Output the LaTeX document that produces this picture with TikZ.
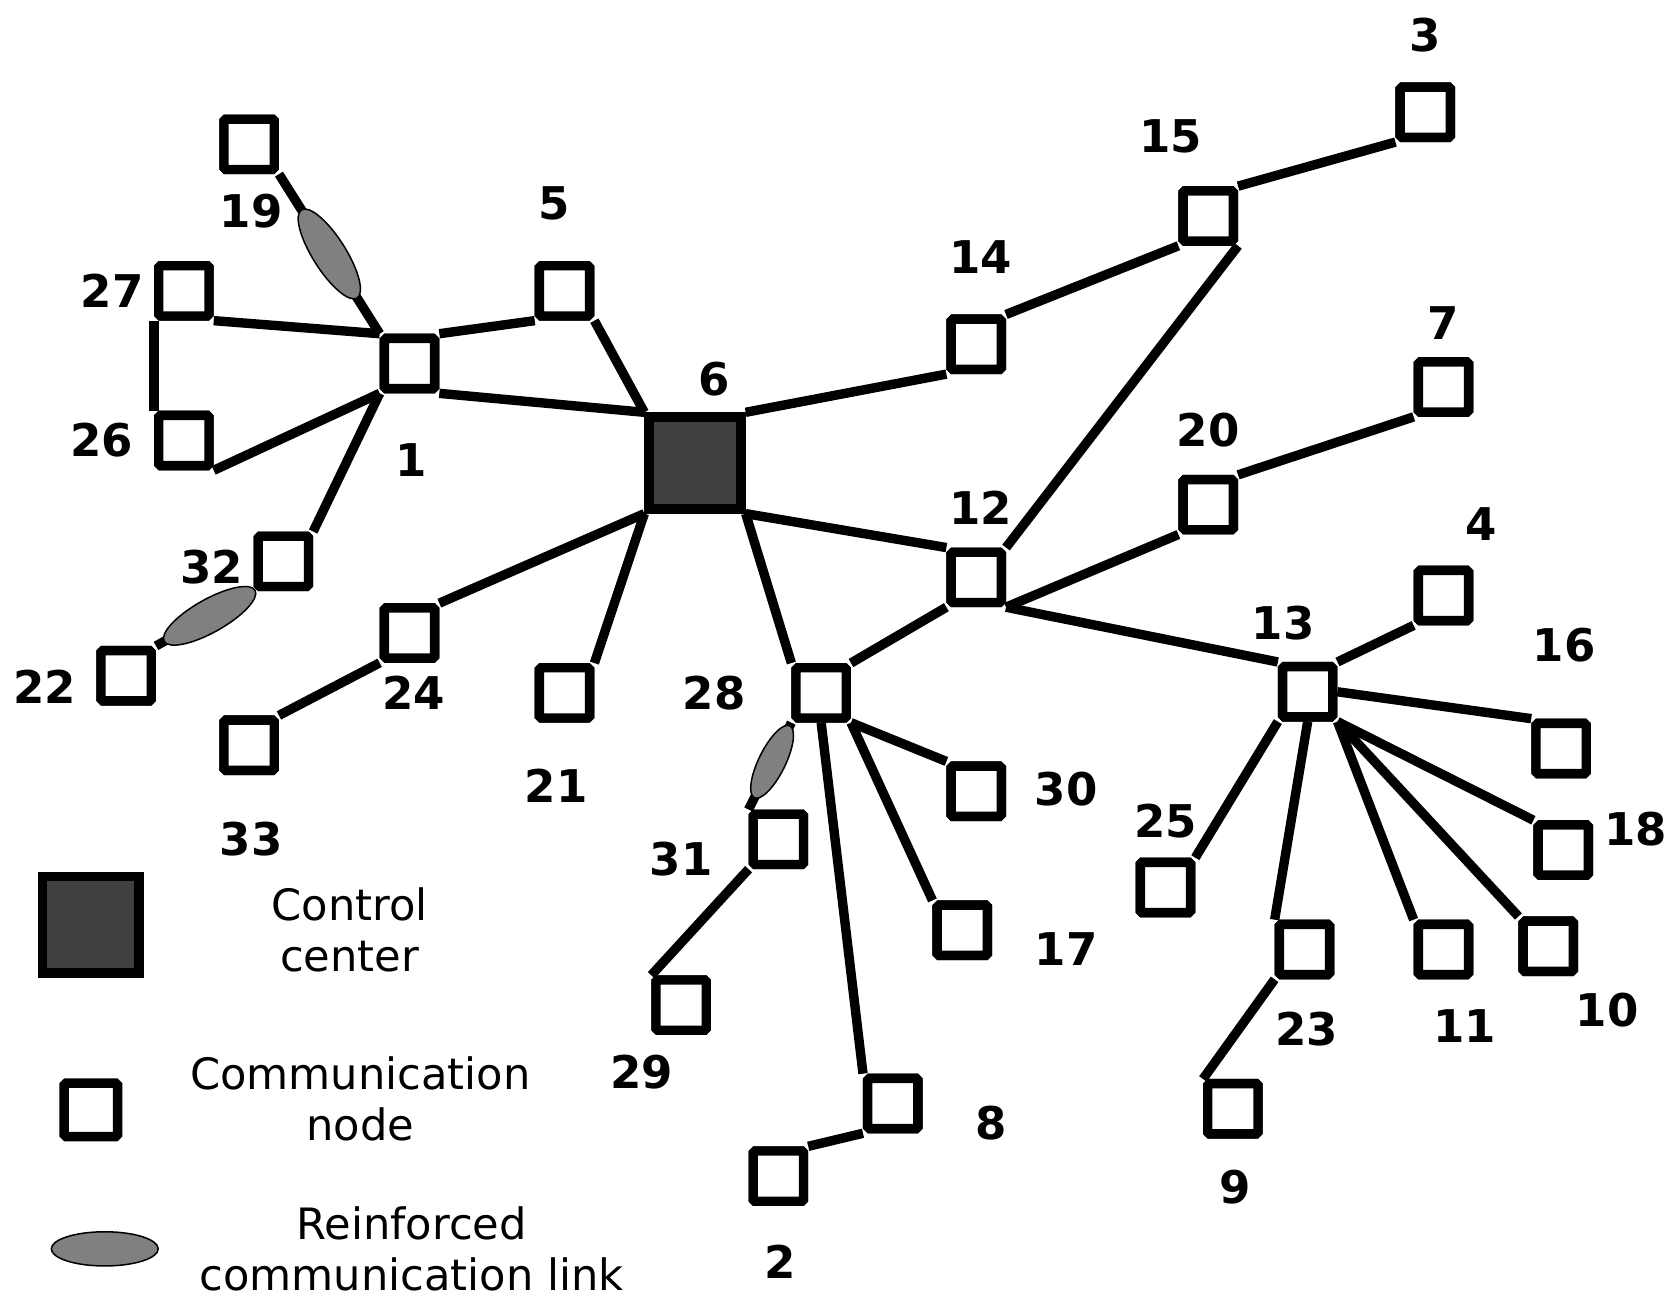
\documentclass[tikz,border=0pt]{standalone}
\usepackage{fontspec}
\setmainfont{DejaVu Sans}
\usetikzlibrary{shapes.geometric}
\begin{document}
\begin{tikzpicture}[x=0.02cm,y=-0.02cm,
  sq/.style={draw,line width=5pt,fill=white,minimum size=0.94cm,inner sep=0pt,rounded corners=1pt},
  cc/.style={draw,line width=5pt,fill=black!75,minimum size=1.72cm,inner sep=0pt},
  lb/.style={font=\bfseries\fontsize{24}{24}\selectfont},
  lt/.style={font=\fontsize{23}{27}\selectfont,align=center},
  ed/.style={line width=5pt},
  el/.style={ellipse,draw,line width=0.8pt,fill=black!50,minimum width=1.95cm,minimum height=0.62cm,inner sep=0pt}]
\useasboundingbox (0,0) rectangle (1560,1230);
\foreach \n/\x/\y in {19/233/135,27/172/272,26/172/412,1/383/340,5/528/272,14/913/322,15/1130/202,3/1333/105,7/1350/362,20/1130/472,12/913/540,4/1350/557,13/1223/647,16/1460/700,18/1462/795,10/1448/885,11/1350/888,23/1220/888,9/1153/1037,25/1090/830,32/265/525,22/118/632,24/383/592,33/233/697,21/528/648,28/768/648,30/913/740,17/900/870,31/728/785,29/637/940,8/835/1032,2/728/1100}
  \node[sq] (n\n) at (\x,\y) {};
\node[cc] (n6) at (650,433) {};
\begin{scope}[on background layer/.style={}]
\draw[ed] (n19.south east) -- node[el,sloped,pos=0.5] {} (n1.north west);
\draw[ed] (n27.south east) -- (n1.north west);
\draw[ed] (n27.south west) -- (n26.north west);
\draw[ed] (n26.south east) -- (n1.south west);
\draw[ed] (n1.north east) -- (n5.south west);
\draw[ed] (n5.south east) -- (n6.north west);
\draw[ed] (n1.south east) -- (n6.north west);
\draw[ed] (n1.south west) -- (n32.north east);
\draw[ed] (n32.south west) -- node[el,sloped,pos=0.45] {} (n22.north east);
\draw[ed] (n6.north east) -- (n14.south west);
\draw[ed] (n14.north east) -- (n15.south west);
\draw[ed] (n15.north east) -- (n3.south west);
\draw[ed] (n15.south east) -- (n12.north east);
\draw[ed] (n6.south east) -- (n12.north west);
\draw[ed] (n12.south east) -- (n20.south west);
\draw[ed] (n20.north east) -- (n7.south west);
\draw[ed] (n12.south east) -- (n13.north west);
\draw[ed] (n13.north east) -- (n4.south west);
\draw[ed] (n13.east) -- (n16.north west);
\draw[ed] (n13.south east) -- (n18.north west);
\draw[ed] (n13.south east) -- (n10.north west);
\draw[ed] (n13.south east) -- (n11.north west);
\draw[ed] (n13.south) -- (n23.north west);
\draw[ed] (n13.south west) -- (n25.north east);
\draw[ed] (n23.south west) -- (n9.north west);
\draw[ed] (n6.south west) -- (n24.north east);
\draw[ed] (n24.south west) -- (n33.north east);
\draw[ed] (n6.south west) -- (n21.north east);
\draw[ed] (n6.south east) -- (n28.north west);
\draw[ed] (n12.south west) -- (n28.north east);
\draw[ed] (n28.south west) -- node[el,sloped,pos=0.45,minimum width=1.5cm,minimum height=0.5cm] {} (n31.north west);
\draw[ed] (n28.south east) -- (n30.north west);
\draw[ed] (n28.south east) -- (n17.north west);
\draw[ed] (n28.south) -- (n8.north west);
\draw[ed] (n31.south west) -- (n29.north west);
\draw[ed] (n8.south west) -- (n2.north east);
\end{scope}
% redraw squares on top
\foreach \n/\x/\y in {19/233/135,27/172/272,26/172/412,1/383/340,5/528/272,14/913/322,15/1130/202,3/1333/105,7/1350/362,20/1130/472,12/913/540,4/1350/557,13/1223/647,16/1460/700,18/1462/795,10/1448/885,11/1350/888,23/1220/888,9/1153/1037,25/1090/830,32/265/525,22/118/632,24/383/592,33/233/697,21/528/648,28/768/648,30/913/740,17/900/870,31/728/785,29/637/940,8/835/1032,2/728/1100}
  \node[sq] at (\x,\y) {};
\node[cc] at (650,433) {};
\foreach \t/\x/\y in {19/235/197,27/105/272,26/95/412,1/385/430,5/518/190,6/668/355,14/917/240,15/1095/128,3/1333/33,7/1350/302,20/1130/402,12/917/475,4/1385/490,13/1200/583,16/1463/603,18/1530/775,10/1503/945,11/1370/960,23/1222/962,9/1155/1110,25/1090/768,32/198/530,22/42/642,24/387/648,33/235/785,21/520/735,28/668/648,30/997/738,17/997/888,31/637/803,29/600/1003,8/927/1050,2/730/1180}
  \node[lb] (l\t) at (\x,\y) {\t};
\node[cc,minimum size=1.8cm] (lg1) at (85,865) {};
\node[sq,minimum size=1.0cm] (lg2) at (85,1038) {};
\node[el,minimum width=2.0cm,minimum height=0.64cm] (lg3) at (98,1168) {};
\node[lt] (t1) at (327,870) {Control\\center};
\node[lt] (t2) at (337,1028) {Communication\\node};
\node[lt] (t3) at (385,1168) {Reinforced\\communication link};
\end{tikzpicture}
\end{document}
